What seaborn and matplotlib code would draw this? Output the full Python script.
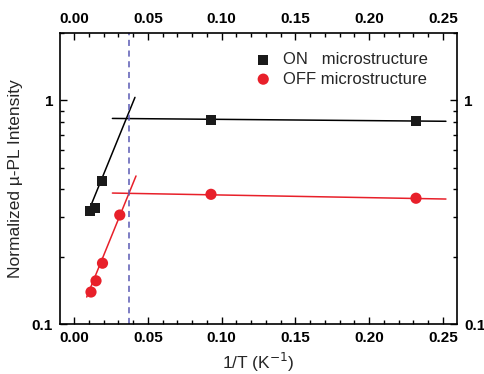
import matplotlib
matplotlib.use("Agg")
import matplotlib.pyplot as plt
import seaborn as sns
import numpy as np
import pandas as pd
from matplotlib.ticker import MultipleLocator, LogLocator, FixedFormatter, FixedLocator, NullFormatter

sns.set_theme(style="ticks")
plt.rcParams['font.family'] = ['Liberation Sans', 'DejaVu Sans']

# data
on_x = [0.0108, 0.0142, 0.0190, 0.0928, 0.2317]
on_y = [0.319, 0.329, 0.435, 0.814, 0.806]
off_x = [0.0115, 0.0149, 0.0193, 0.0310, 0.0928, 0.2317]
off_y = [0.139, 0.156, 0.187, 0.307, 0.380, 0.365]

# fit lines (endpoints)
on_fit_low_x = [0.0088, 0.0413]
on_fit_low_y = [0.307, 1.031]
on_fit_high_x = [0.026, 0.252]
on_fit_high_y = [0.830, 0.806]
off_fit_low_x = [0.0086, 0.042]
off_fit_low_y = [0.132, 0.459]
off_fit_high_x = [0.026, 0.252]
off_fit_high_y = [0.385, 0.362]
vline_x = 0.0373

fig = plt.figure(figsize=(4.85, 3.74), dpi=100)
ax = fig.add_axes([60/485, 1-324/374, (457-60)/485, (324-33)/374])

for fx, fy, c in [(on_fit_low_x, on_fit_low_y, 'black'), (on_fit_high_x, on_fit_high_y, 'black'),
                  (off_fit_low_x, off_fit_low_y, '#e8202a'), (off_fit_high_x, off_fit_high_y, '#e8202a')]:
    sns.lineplot(x=fx, y=fy, color=c, lw=1.1, ax=ax, sort=False, estimator=None)

ax.axvline(vline_x, color='#5a5ab4', ls=(0, (4, 3)), lw=1.1)

df_on = pd.DataFrame({'x': on_x, 'y': on_y})
df_off = pd.DataFrame({'x': off_x, 'y': off_y})
sns.scatterplot(data=df_on, x='x', y='y', marker='s', s=55, color='#1a1a1a', edgecolor='none',
                ax=ax, label='ON   microstructure', zorder=5)
sns.scatterplot(data=df_off, x='x', y='y', marker='o', s=65, color='#e8202a', edgecolor='none',
                ax=ax, label='OFF microstructure', zorder=5)

ax.set_yscale('log')
ax.set_xlim(-0.0095, 0.2595)
ax.set_ylim(0.1, 2.0)

ax.xaxis.set_major_locator(MultipleLocator(0.05))
ax.xaxis.set_minor_locator(MultipleLocator(0.01))
ax.yaxis.set_major_locator(FixedLocator([0.1, 1]))
ax.yaxis.set_major_formatter(FixedFormatter(['0.1', '1']))
ax.yaxis.set_minor_locator(LogLocator(base=10, subs=np.arange(2, 10)))
ax.yaxis.set_minor_formatter(NullFormatter())
ax.xaxis.set_major_formatter(matplotlib.ticker.FuncFormatter(lambda v, p: f"{v:.2f}"))

ax.tick_params(which='both', direction='in', top=True, right=True, labeltop=True, labelright=True,
               colors='black', width=1.0)
ax.tick_params(which='major', length=5, labelsize=11, pad=5)
ax.tick_params(which='minor', length=3)
for spine in ax.spines.values():
    spine.set_linewidth(1.2)
    spine.set_color('black')

ax.set_xlabel('1/T (K$^{-1}$)', fontsize=12.5, labelpad=4)
ax.set_ylabel('Normalized µ-PL Intensity', fontsize=12.5, labelpad=6)

leg = ax.legend(loc='upper right', bbox_to_anchor=(0.965, 0.985), frameon=False, fontsize=12,
                handletextpad=0.6, labelspacing=0.25, markerscale=1.0, handlelength=1.2)

fig.canvas.draw()
for t in ax.xaxis.get_major_ticks():
    t.label1.set_fontweight('bold'); t.label2.set_fontweight('bold')
for t in ax.yaxis.get_major_ticks():
    t.label1.set_fontweight('bold'); t.label2.set_fontweight('bold')

fig.savefig('out.png', dpi=100)
